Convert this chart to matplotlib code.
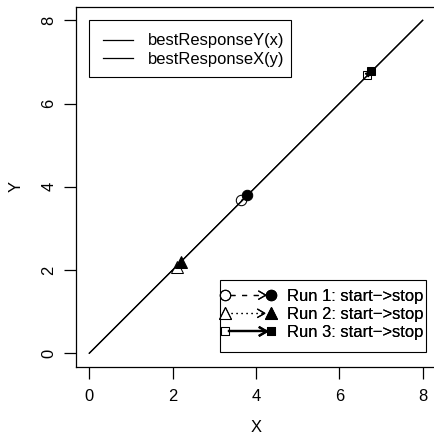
import numpy as np
import matplotlib
matplotlib.use('Agg')
import matplotlib.pyplot as plt
import matplotlib.transforms as mtransforms
from matplotlib.lines import Line2D
from matplotlib.patches import Rectangle
from matplotlib.legend_handler import HandlerBase

plt.rcParams['font.family'] = ['Liberation Sans', 'DejaVu Sans']
FS = 11.9
DPI = 100

# best response curves (identity)
grid_x = [0, 8]
best_y_of_x = [0, 8]
best_x_of_y = [0, 8]
curve_labels = ['bestResponseY(x)', 'bestResponseX(y)']

# runs: start (open) -> stop (filled)
run_labels = ['Run 1: start\u2212>stop', 'Run 2: start\u2212>stop', 'Run 3: start\u2212>stop']
start_x = [3.65, 2.10, 6.67]
start_y = [3.67, 2.08, 6.69]
stop_x = [3.79, 2.19, 6.77]
stop_y = [3.80, 2.20, 6.78]

run_markers = ['o', '^', 's']
run_msize = [7.5, 9.0, 6.2]
run_ls = [(0, (4, 5.3)), (0, (1, 3)), '-']
run_lw = [0.9, 0.9, 1.6]


class RunKey(object):
    def __init__(self, marker, ms, ls, lw):
        self.marker = marker
        self.ms = ms
        self.ls = ls
        self.lw = lw


class RunHandler(HandlerBase):
    '''open marker -- line --> filled marker'''
    def create_artists(self, legend, h, xdescent, ydescent, width, height, fontsize, trans):
        yc = height / 2. - ydescent
        x0 = -xdescent
        x1 = -xdescent + width
        r = h.ms / 2.
        a0 = Line2D([x0], [yc], marker=h.marker, ms=h.ms, mfc='none', mec='k', mew=0.75,
                    ls='none', transform=trans)
        shaft = Line2D([x0 + r, x1 - r], [yc, yc], color='k', lw=h.lw, ls=h.ls, transform=trans)
        hl = 5.0
        hw = hl * np.tan(np.radians(30))
        head = Line2D([x1 - r - hl, x1 - r, x1 - r - hl], [yc + hw, yc, yc - hw],
                      color='k', lw=h.lw, transform=trans)
        a1 = Line2D([x1], [yc], marker=h.marker, ms=h.ms, mfc='k', mec='k', mew=0.75,
                    ls='none', transform=trans)
        return [shaft, head, a0, a1]


def offset(dx, dy):
    # pixel offset added after data transform
    return mtransforms.ScaledTranslation(dx / DPI, dy / DPI, fig.dpi_scale_trans)


def framed_legend(handles, labels, loc, corner, pads, **kw):
    '''legend without own frame; box drawn with R-like uneven padding (px: l, r, t, b)'''
    pl, pr, pt, pb = pads
    if loc == 'upper left':
        dx, dy = pl, -pt
    else:
        dx, dy = -pr, pb
    leg = ax.legend(handles, labels, loc=loc, bbox_to_anchor=corner,
                    bbox_transform=ax.transData + offset(dx, dy), borderaxespad=0,
                    borderpad=0, frameon=False, fontsize=FS, **kw)
    ax.add_artist(leg)
    return leg, pads


fig = plt.figure(figsize=(4.35, 4.38), dpi=DPI)
ax = fig.add_axes([76 / 435., (438 - 366.5) / 438., 360 / 435., 359.5 / 438.])

l1, = ax.plot(grid_x, best_y_of_x, color='k', lw=0.9, zorder=1)
l2, = ax.plot(best_x_of_y, grid_x, color='k', lw=0.9, zorder=1)

for i in range(len(start_x)):
    ax.plot(start_x[i], start_y[i], marker=run_markers[i], ms=run_msize[i], mfc='none',
            mec='k', mew=0.75, ls='none', zorder=3)
    ax.annotate('', xy=(stop_x[i], stop_y[i]), xytext=(start_x[i], start_y[i]),
                arrowprops=dict(arrowstyle='->', color='k', lw=run_lw[i], ls=run_ls[i],
                                shrinkA=0, shrinkB=0, mutation_scale=6), zorder=4)
    ax.plot(stop_x[i], stop_y[i], marker=run_markers[i], ms=run_msize[i], mfc='k',
            mec='k', mew=0.75, ls='none', zorder=5)

ax.set_xlim(-0.32, 8.32)
ax.set_ylim(-0.32, 8.32)
ax.set_xticks([0, 2, 4, 6, 8])
ax.set_yticks([0, 2, 4, 6, 8])
for s in ax.spines.values():
    s.set_linewidth(0.9)
    s.set_color('k')
ax.spines['right'].set_visible(False)
ax.tick_params(axis='both', length=8.5, width=0.9, labelsize=FS, color='k')
ax.tick_params(axis='x', pad=8)
ax.tick_params(axis='y', pad=5.5, labelrotation=90)
for t in ax.get_yticklabels():
    t.set_va('center')

ax.set_xlabel('X', fontsize=FS, va='center')
ax.set_ylabel('Y', fontsize=FS, va='center')
ax.xaxis.set_label_coords(0.5, -0.1697)
ax.yaxis.set_label_coords(-0.167, 0.5)

legends = []
legends.append(framed_legend([l1, l2], curve_labels, 'upper left', (0, 8),
                             (13.7, 7.4, 13.0, 9.6),
                             handlelength=1.81, handletextpad=0.89, labelspacing=0.22))

keys = [RunKey(run_markers[i], run_msize[i], run_ls[i], run_lw[i]) for i in range(3)]
legends.append(framed_legend(keys, run_labels, 'lower right', (8.07, 0.04),
                             (4.7, 2.4, 9.0, 11.3),
                             handlelength=2.8, handletextpad=0.95, labelspacing=0.19,
                             handler_map={RunKey: RunHandler()}))

fig.canvas.draw()
renderer = fig.canvas.get_renderer()
for leg, (pl, pr, pt, pb) in legends:
    ext = leg.get_window_extent(renderer)
    box = Rectangle((ext.x0 - pl, ext.y0 - pb), ext.width + pl + pr, ext.height + pt + pb,
                    transform=mtransforms.IdentityTransform(), fill=False,
                    edgecolor='k', lw=0.8, zorder=6)
    fig.add_artist(box)

fig.savefig('out.png', dpi=DPI)
